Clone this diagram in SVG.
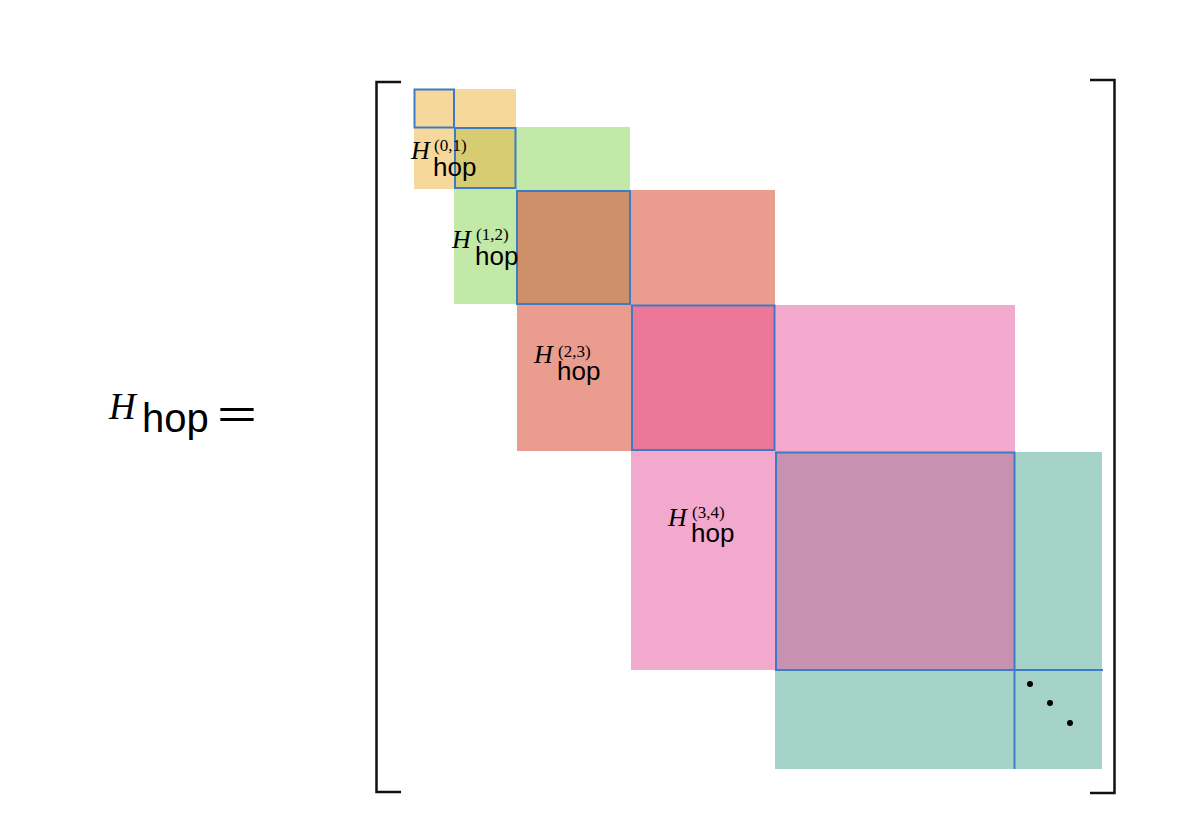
<svg xmlns="http://www.w3.org/2000/svg" width="1190" height="824" viewBox="0 0 1190 824">
<style>
.blk{stroke:none}
.bx{fill:none;stroke:#3d7cc4;stroke-width:2}
.br{fill:none;stroke:#111;stroke-width:2.5}
.H{font-family:"Liberation Serif",serif;font-style:italic;fill:#000}
.sup{font-family:"Liberation Serif",serif;fill:#000}
.hop{font-family:"Liberation Sans",Arial,sans-serif;fill:#000}
</style>
<rect width="1190" height="824" fill="#fff"/>
<g id="blocks">
<rect class="blk" x="414" y="89" width="102" height="100" fill="#f6d89c"/>
<rect class="blk" x="454" y="127" width="176" height="177" fill="#c2e9a8"/>
<rect class="blk" x="517" y="190" width="258" height="261" fill="#ea9c8f"/>
<rect class="blk" x="631" y="305" width="384" height="365" fill="#f3a8cd"/>
<rect class="blk" x="775" y="452" width="327" height="317" fill="#a6d3c8"/>
<rect class="blk" x="455" y="128" width="61" height="61" fill="#d8cc72"/>
<rect class="blk" x="517" y="190" width="113" height="114" fill="#cd9068"/>
<rect class="blk" x="632" y="305" width="143" height="146" fill="#ec7799"/>
<rect class="blk" x="776" y="452" width="239" height="218" fill="#c792b1"/>
</g>
<g id="borders">
<rect class="bx" x="414.5" y="89.5" width="39.5" height="38"/>
<rect class="bx" x="455" y="128" width="60.5" height="60"/>
<rect class="bx" x="517" y="191" width="113" height="113"/>
<rect class="bx" x="632" y="305.5" width="142.5" height="144.5"/>
<rect class="bx" x="776" y="452.5" width="238.5" height="217.5"/>
<line class="bx" x1="1014.5" y1="670" x2="1014.5" y2="769"/>
<line class="bx" x1="1014.5" y1="670" x2="1103" y2="670"/>
</g>
<g id="brackets">
<polyline class="br" points="401,82 376.5,82 376.5,792 401,792"/>
<polyline class="br" points="1090,80 1114.5,80 1114.5,793 1090,793"/>
</g>
<g id="dots" fill="#000">
<circle cx="1030" cy="684" r="3"/>
<circle cx="1050" cy="703" r="3"/>
<circle cx="1070" cy="723" r="3"/>
</g>
<g id="main-label">
<text class="H" x="109" y="419" font-size="37">H</text>
<text class="hop" x="142" y="432" font-size="40">hop</text>
<text class="hop" x="217" y="428" font-size="40" textLength="40" lengthAdjust="spacingAndGlyphs">=</text>
</g>
<g id="label-01">
<text class="H" x="411" y="159" font-size="26">H</text>
<text class="sup" x="434" y="151" font-size="17">(0,1)</text>
<text class="hop" x="433" y="176" font-size="26">hop</text>
</g>
<g id="label-12">
<text class="H" x="452" y="248" font-size="26">H</text>
<text class="sup" x="476" y="240" font-size="17">(1,2)</text>
<text class="hop" x="475" y="265" font-size="26">hop</text>
</g>
<g id="label-23">
<text class="H" x="534" y="363" font-size="26">H</text>
<text class="sup" x="558" y="357" font-size="17">(2,3)</text>
<text class="hop" x="557" y="380" font-size="26">hop</text>
</g>
<g id="label-34">
<text class="H" x="668" y="526" font-size="26">H</text>
<text class="sup" x="692" y="518" font-size="17">(3,4)</text>
<text class="hop" x="691" y="542" font-size="26">hop</text>
</g>
</svg>
